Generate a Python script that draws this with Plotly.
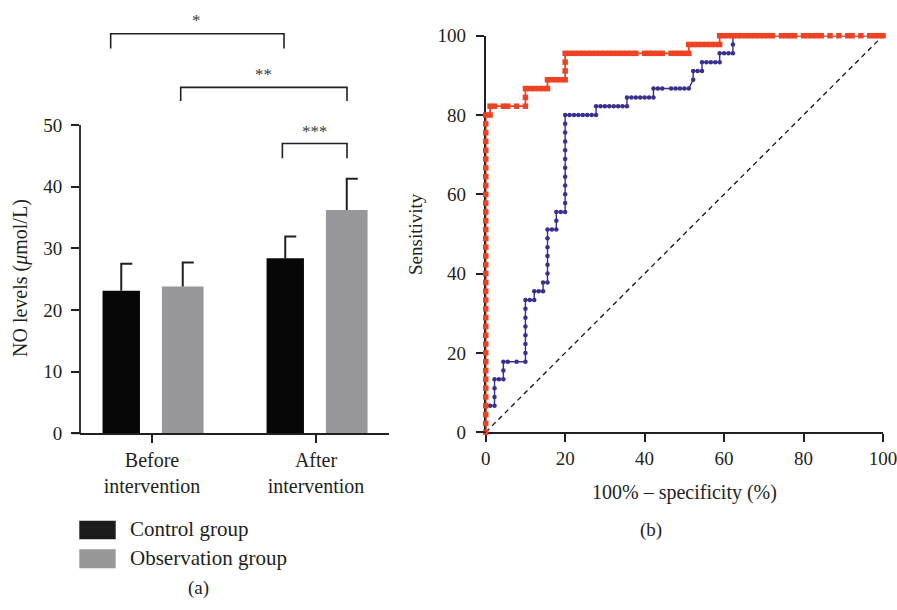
import plotly.graph_objects as go

# ---------------- data: panel (a) ----------------
categories = ["Before<br>intervention", "After<br>intervention"]
control_mean = [23.1, 28.4]
control_sd = [4.4, 3.5]
observation_mean = [23.8, 36.2]
observation_sd = [3.9, 5.1]
series_names = ["Control group", "Observation group"]
y_ticks_a = [0, 10, 20, 30, 40, 50]
sig_labels = ["*", "**", "***"]

# ---------------- data: panel (b) ROC (counts of FP out of NEG_N, TP out of POS_N) ----------------
NEG_N = 90
POS_N = 45
red_fp = [0, 0, 0, 0, 0, 0, 0, 0, 0, 0, 0, 0, 0, 0, 0, 0, 0, 0, 0, 0,
          0, 0, 0, 0, 0, 0, 0, 0, 0, 0, 0, 0, 0, 0, 0, 0, 0,
          1, 1, 2, 4, 5, 7, 9, 9, 9, 10, 11, 12, 13, 14, 14, 15, 16, 17, 18, 18, 18, 18,
          19, 20, 21, 22, 23, 24, 25, 26, 27, 28, 29, 30, 31, 32, 33, 34, 36, 37, 38, 39,
          40, 42, 43, 44, 45, 46,
          46, 47, 48, 49, 50, 51, 52, 53, 53,
          54, 55, 56, 57, 58, 59, 60, 61, 62, 63, 64, 65, 67, 68, 69, 70, 72, 73, 74, 75,
          76, 78, 80, 82, 83, 85, 87, 88, 89, 90]
red_tp = [0, 1, 2, 3, 4, 5, 6, 7, 8, 9, 10, 11, 12, 13, 14, 15, 16, 17, 18, 19,
          20, 21, 22, 23, 24, 25, 26, 27, 28, 29, 30, 31, 32, 33, 34, 35, 36,
          36, 37, 37, 37, 37, 37, 37, 38, 39, 39, 39, 39, 39, 39, 40, 40, 40, 40, 40, 41, 42, 43,
          43, 43, 43, 43, 43, 43, 43, 43, 43, 43, 43, 43, 43, 43, 43, 43, 43, 43, 43, 43,
          43, 43, 43, 43, 43, 43,
          44, 44, 44, 44, 44, 44, 44, 44, 45,
          45, 45, 45, 45, 45, 45, 45, 45, 45, 45, 45, 45, 45, 45, 45, 45, 45, 45, 45, 45,
          45, 45, 45, 45, 45, 45, 45, 45, 45, 45]
blue_fp = [0, 0, 0, 0, 1, 2, 2, 2, 2, 3, 4, 4, 4, 5, 7, 9,
           9, 9, 9, 9, 9, 9, 9, 10, 11, 11, 12, 13, 13, 14,
           14, 14, 14, 14, 14, 14, 15, 16, 16, 16, 17, 18,
           18, 18, 18, 18, 18, 18, 18, 18, 18, 18, 18,
           19, 20, 21, 22, 23, 24, 25, 25, 26, 27, 28, 29, 30, 31, 32, 32,
           33, 34, 35, 36, 37, 38, 38, 39, 40, 42, 43, 44, 45, 46,
           47, 47, 48, 49, 49, 50, 51, 52, 53, 53, 54, 55, 56, 56, 56, 90]
blue_tp = [0, 1, 2, 3, 3, 3, 4, 5, 6, 6, 6, 7, 8, 8, 8, 8,
           9, 10, 11, 12, 13, 14, 15, 15, 15, 16, 16, 16, 17, 17,
           18, 19, 20, 21, 22, 23, 23, 23, 24, 25, 25, 25,
           26, 27, 28, 29, 30, 31, 32, 33, 34, 35, 36,
           36, 36, 36, 36, 36, 36, 36, 37, 37, 37, 37, 37, 37, 37, 37, 38,
           38, 38, 38, 38, 38, 38, 39, 39, 39, 39, 39, 39, 39, 39,
           40, 41, 41, 41, 42, 42, 42, 42, 42, 43, 43, 43, 43, 44, 45, 45]
ticks_b = [0, 20, 40, 60, 80, 100]

assert len(red_fp) == len(red_tp) and len(blue_fp) == len(blue_tp)

# ---------------- styling / layout helpers ----------------
W, H = 897, 610
FONT = "Liberation Serif"
TXT = "#231f20"
BLACK_BAR = "#070707"
GRAY_BAR = "#98989c"
RED = "#ee4323"
BLUE = "#38308f"


def px(x):
    return x / W


def py(y):
    return 1 - y / H


# panel (a) geometry
A_LEFT, A_RIGHT = 80, 389
A_BOTTOM = 433.3
A_UNIT = (433.3 - 125.0) / 50.0
A_YMAX = 66
A_TOP = A_BOTTOM - A_YMAX * A_UNIT
GROUP_PX = 164
GROUP0_PX = 152
x_lo = (A_LEFT - GROUP0_PX) / GROUP_PX
x_hi = (A_RIGHT - GROUP0_PX) / GROUP_PX
group_pos = [0, 1]
bar_off = 0.1875
cap = 11 / GROUP_PX

# panel (b) geometry
B_LEFT, B_RIGHT = 485.7, 883
B_BOTTOM, B_TOP = 432.2, 35.7

fig = go.Figure()

ctrl_x = [g - bar_off for g in group_pos]
obs_x = [g + bar_off for g in group_pos]

fig.add_trace(go.Bar(x=ctrl_x, y=control_mean, width=0.228, name=series_names[0],
                     marker=dict(color=BLACK_BAR, line=dict(width=0)), xaxis="x", yaxis="y"))
fig.add_trace(go.Bar(x=obs_x, y=observation_mean, width=0.254, name=series_names[1],
                     marker=dict(color=GRAY_BAR, line=dict(width=0)), xaxis="x", yaxis="y"))

# one-sided error bars with right-hand cap
ex, ey = [], []
for xs, ms, ss in ((ctrl_x, control_mean, control_sd), (obs_x, observation_mean, observation_sd)):
    for x, m, s in zip(xs, ms, ss):
        ex += [x, x, x + cap, None]
        ey += [m, m + s, m + s, None]
fig.add_trace(go.Scatter(x=ex, y=ey, mode="lines", line=dict(color=TXT, width=2),
                         hoverinfo="skip", xaxis="x", yaxis="y"))

# significance brackets (x0, x1, top, bottom) and label positions
brackets = [(-0.252, 0.805, 64.8, 62.4), (0.175, 1.189, 56.1, 53.9), (0.795, 1.189, 47.0, 44.6)]
label_pos = [(0.274, 15), (0.677, 69), (0.994, 126)]
bx, by = [], []
for x0, x1, top, bot in brackets:
    bx += [x0, x0, x1, x1, None]
    by += [bot, top, top, bot, None]
fig.add_trace(go.Scatter(x=bx, y=by, mode="lines", line=dict(color=TXT, width=1.6),
                         hoverinfo="skip", xaxis="x", yaxis="y"))

annotations = []
for lab, (lx, ly) in zip(sig_labels, label_pos):
    annotations.append(dict(text=lab, x=lx, xref="x", y=py(ly + 5), yref="paper",
                            showarrow=False, xanchor="center", yanchor="middle",
                            font=dict(family=FONT, size=17, color="#3a3a3a")))

# panel (b): diagonal, blue and red ROC curves
fig.add_trace(go.Scatter(x=[0, 100], y=[0, 100], mode="lines",
                         line=dict(color="#111111", width=1.3, dash="5px,4px"),
                         hoverinfo="skip", xaxis="x2", yaxis="y2"))
fig.add_trace(go.Scatter(x=[v / NEG_N * 100 for v in blue_fp], y=[v / POS_N * 100 for v in blue_tp],
                         mode="lines+markers", line=dict(color=BLUE, width=1.4),
                         marker=dict(symbol="circle", size=4.5, color=BLUE),
                         cliponaxis=False, xaxis="x2", yaxis="y2"))
fig.add_trace(go.Scatter(x=[v / NEG_N * 100 for v in red_fp], y=[v / POS_N * 100 for v in red_tp],
                         mode="lines+markers", line=dict(color=RED, width=1.8),
                         marker=dict(symbol="square", size=5.5, color=RED),
                         cliponaxis=False, xaxis="x2", yaxis="y2"))

axis_common = dict(showgrid=False, zeroline=False, ticks="outside", ticklen=8, tickwidth=1.7,
                   tickcolor=TXT, linecolor=TXT, linewidth=1.7, ticklabeloverflow="allow",
                   tickfont=dict(family=FONT, size=19, color=TXT))
cat_axis = dict(axis_common, tickfont=dict(family=FONT, size=20, color=TXT))

shapes = [
    # y-axis line of panel (a), only up to 50
    dict(type="line", xref="x domain", yref="y domain", x0=0, x1=0, y0=0, y1=50 / A_YMAX,
         line=dict(color=TXT, width=1.8)),
    # x-axis extension to the left of y-axis, panel (a)
    dict(type="line", xref="x domain", yref="y domain", x0=-8 / (A_RIGHT - A_LEFT), x1=0, y0=0, y1=0,
         line=dict(color=TXT, width=1.8)),
    # x-axis extension, panel (b)
    dict(type="line", xref="x2 domain", yref="y2 domain", x0=-9 / (B_RIGHT - B_LEFT), x1=0, y0=0, y1=0,
         line=dict(color=TXT, width=1.7)),
    # legend swatches
    dict(type="rect", xref="paper", yref="paper", x0=px(79.3), x1=px(115.7), y0=py(539.3), y1=py(520.7),
         fillcolor="#1e1b1c", line=dict(width=0)),
    dict(type="rect", xref="paper", yref="paper", x0=px(79.3), x1=px(115.7), y0=py(568.3), y1=py(549.3),
         fillcolor=GRAY_BAR, line=dict(width=0)),
]

def txt(text, x, y, size=19, angle=0, xanchor="center"):
    return dict(text=text, x=px(x), y=py(y), xref="paper", yref="paper", showarrow=False,
                xanchor=xanchor, yanchor="middle", textangle=angle,
                font=dict(family=FONT, size=size, color=TXT))

annotations += [
    txt("NO levels (<i>μ</i>mol/L)", 20, 278, size=20, angle=-90),
    txt("Sensitivity", 415, 234, size=19, angle=-90),
    txt("100% – specificity (%)", 684, 492, size=20),
    txt(series_names[0], 128, 529, size=21, xanchor="left"),
    txt(series_names[1], 128, 558, size=21, xanchor="left"),
    txt("(a)", 198, 588, size=19),
    txt("(b)", 651, 530, size=19),
]

fig.update_layout(
    width=W, height=H,
    margin=dict(l=0, r=0, t=0, b=0, autoexpand=False),
    paper_bgcolor="white", plot_bgcolor="white",
    showlegend=False, barmode="overlay",
    xaxis=dict(domain=[px(A_LEFT), px(A_RIGHT)], range=[x_lo, x_hi], anchor="y",
               tickvals=group_pos, ticktext=categories, showline=True, **cat_axis),
    yaxis=dict(domain=[py(A_BOTTOM), py(A_TOP)], range=[0, A_YMAX], anchor="x",
               tickvals=y_ticks_a, showline=False, ticklabelstandoff=5, **axis_common),
    xaxis2=dict(domain=[px(B_LEFT), px(B_RIGHT)], range=[0, 100], anchor="y2",
                tickvals=ticks_b, showline=True, layer="below traces", **axis_common),
    yaxis2=dict(domain=[py(B_BOTTOM), py(B_TOP)], range=[0, 100], anchor="x2",
                tickvals=ticks_b, showline=True, layer="below traces", ticklabelstandoff=6,
                **axis_common),
    shapes=shapes,
    annotations=annotations,
)

fig.write_html("out.html", config={"displayModeBar": False},
               post_script="document.body.style.margin='0';document.body.style.overflow='hidden';")
